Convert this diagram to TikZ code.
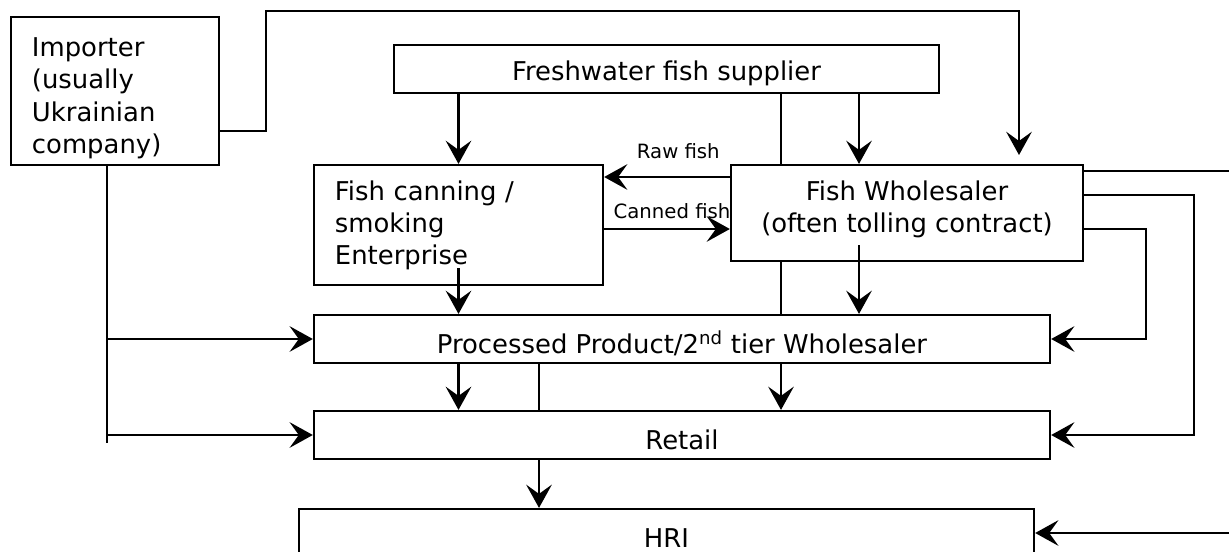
\documentclass[tikz,border=0pt]{standalone}
\usepackage{fontspec}
\setmainfont{DejaVu Sans}
\usetikzlibrary{arrows.meta}

\begin{document}
\begin{tikzpicture}[x = 0.025cm, y = -0.025cm,
    box/.style = {draw, rectangle, line width = 0.055cm, inner sep = 0pt, font = \fontsize{18.4}{22.8}\selectfont},
    oneline/.style = {text height = #1, text depth = 0pt},
    link/.style = {line width = 0.055cm},
    flow/.style = {link, -{Stealth[length = 0.58cm, width = 0.64cm, inset = 0.23cm]}},
    tag/.style = {font = \fontsize{14}{16}\selectfont}]
    \useasboundingbox (0,0) rectangle (1229,552);
    \clip (0,0) rectangle (1229,552);

    \node[box, minimum width = 5.2cm, minimum height = 3.7cm, align = left, text width = 4.15cm] (importer) at (115,91) {\rule{0pt}{0.835cm}Importer\\(usually\\Ukrainian\\company)};
    \node[box, oneline = 0.58cm, minimum width = 13.625cm, minimum height = 1.2cm] (supplier) at (666.5,69) {Freshwater fish supplier};
    \node[box, minimum width = 7.225cm, minimum height = 3cm, align = left, text width = 6.175cm] (canning) at (458.5,225) {Fish canning /\\smoking\\Enterprise};
    \node[box, minimum width = 8.8cm, minimum height = 2.4cm, align = center] (wholesaler) at (907,213) {Fish Wholesaler\\(often tolling contract)\rule[-0.3cm]{0pt}{0.1cm}};
    \node[box, oneline = 0.72cm, minimum width = 18.4cm, minimum height = 1.2cm] (processed) at (682,339) {Processed Product/2\textsuperscript{nd} tier Wholesaler};
    \node[box, oneline = 0.72cm, minimum width = 18.4cm, minimum height = 1.2cm] (retail) at (682,435) {Retail};
    \node[box, oneline = 0.72cm, minimum width = 18.375cm, minimum height = 1.2cm] (hri) at (666.5,533) {HRI};

    \coordinate (wl) at (781,0);
    \coordinate (wm) at (859,0);
    \coordinate (hricol) at (539,0);
    \coordinate (whtop) at (1019,155);
    \coordinate (busend) at (107,443);
    \coordinate (edgeout) at (1229,171);
    \coordinate (hriin) at (1229,533);

    % importer
    \draw[flow] ([yshift = -1cm]importer.east) -| (266,11) -| (whtop);
    \draw[link] (importer.south -| busend) -- (busend);
    \draw[flow] (busend |- processed.west) -- (processed.west);
    \draw[flow] (busend |- retail.west) -- (retail.west);

    % supplier
    \draw[flow] (canning.north |- supplier.south) -- (canning.north);
    \draw[link] (wl |- supplier.south) -- (wl |- wholesaler.north);
    \draw[flow] (wm |- supplier.south) -- (wm |- wholesaler.north);

    % canning <-> wholesaler
    \draw[flow] (wholesaler.west |- 0,177) -- node[tag, pos = 0.41, above = 0.3cm] {Raw fish} (canning.east |- 0,177);
    \draw[flow] (canning.east |- 0,229) -- node[tag, pos = 0.54, above = 0.12cm] {Canned fish} (wholesaler.west |- 0,229);

    % wholesaler
    \draw[link] (wholesaler.east |- edgeout) -- (edgeout);
    \draw[flow] (wholesaler.east |- 0,195) -- (1194,195) |- (retail.east);
    \draw[flow] (wholesaler.east |- 0,229) -- (1146,229) |- (processed.east);
    \draw[link] (wl |- wholesaler.south) -- (wl |- processed.north);
    \draw[flow] (wm |- 0,245) -- (wm |- processed.north);

    % down the chain
    \draw[flow] (canning.south |- 0,268) -- (canning.south |- processed.north);
    \draw[flow] (canning.south |- processed.south) -- (canning.south |- retail.north);
    \draw[link] (hricol |- processed.south) -- (hricol |- retail.north);
    \draw[flow] (wl |- processed.south) -- (wl |- retail.north);
    \draw[flow] (hricol |- retail.south) -- (hricol |- hri.north);
    \draw[flow] (hriin) -- (hri.east |- hriin);
\end{tikzpicture}
\end{document}
